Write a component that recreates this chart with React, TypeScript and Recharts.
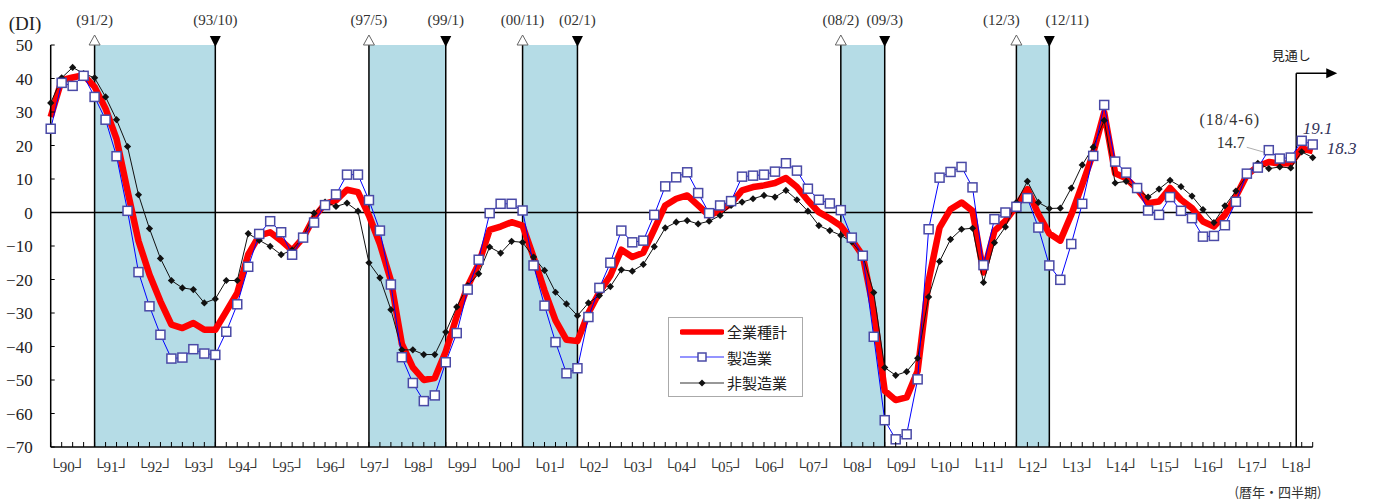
import React from "react";
import {
  LineChart,
  Line,
  XAxis,
  YAxis,
  ReferenceArea,
  ReferenceLine,
  ReferenceDot,
  Legend,
} from "recharts";

const SERIF = "'Liberation Serif', 'DejaVu Serif', 'Noto Sans CJK JP', serif";
const JP = "'Noto Sans CJK JP', 'Noto Sans', sans-serif";

// years on the axis (4 quarters each)
const YEARS = [
  "90", "91", "92", "93", "94", "95", "96", "97", "98", "99",
  "00", "01", "02", "03", "04", "05", "06", "07", "08", "09",
  "10", "11", "12", "13", "14", "15", "16", "17", "18",
];

// 全業種計
const TOTAL = [
  28.5, 39.5, 40.3, 41.0,
  37.5, 31.0, 22.0, 6.5,
  -8.5, -18.5, -26.5, -33.5,
  -34.5, -33.0, -35.0, -35.0,
  -29.5, -24.0, -12.5, -6.9,
  -5.9, -8.4, -11.3, -7.6,
  -1.4, 2.6, 3.6, 6.8,
  6.1, -0.9, -9.4, -20.3,
  -39.2, -46.2, -50.0, -49.4,
  -41.5, -31.0, -22.0, -15.3,
  -5.2, -4.2, -2.9, -3.9,
  -13.3, -23.3, -32.2, -38.0,
  -38.4, -30.0, -23.8, -18.8,
  -11.1, -13.3, -12.0, -5.0,
  2.1, 4.1, 5.1, 2.1,
  -0.9, 0.6, 2.6, 6.6,
  7.6, 8.1, 8.8, 10.3,
  7.6, 3.6, 0.1, -1.8,
  -4.0, -8.2, -12.9, -29.4,
  -53.2, -56.0, -55.2, -47.3,
  -20.4, -4.5, 1.0, 3.0,
  0.5, -17.9, -5.5, -2.5,
  2.0, 7.0, -0.5, -6.3,
  -8.4, -0.7, 8.3, 17.7,
  29.9, 11.7, 10.2, 7.0,
  2.8, 3.3, 7.3, 3.8,
  1.3, -2.7, -4.2, -0.7,
  4.8, 11.2, 13.8, 15.1,
  14.6, 14.7, 19.1, 18.3,
];

// 製造業
const MFG = [
  25.0, 38.7, 37.8, 40.8,
  34.5, 27.7, 16.8, 0.5,
  -17.8, -28.0, -36.5, -43.6,
  -43.3, -40.8, -42.1, -42.5,
  -35.6, -27.4, -16.2, -6.4,
  -2.6, -5.9, -12.6, -7.5,
  -3.0, 2.2, 5.4, 11.3,
  11.3, 3.7, -5.4, -21.5,
  -43.2, -50.9, -56.3, -54.6,
  -44.7, -36.0, -23.0, -14.1,
  -0.2, 2.6, 2.6, 0.6,
  -15.8, -27.8, -38.7, -48.0,
  -46.5, -31.2, -22.5, -15.0,
  -5.4, -8.9, -8.4, -0.7,
  7.8, 10.5, 12.0, 5.8,
  -0.2, 2.1, 3.4, 10.7,
  11.0, 11.3, 12.2, 14.7,
  12.5, 7.1, 3.8, 2.7,
  0.7, -7.5, -12.9, -37.1,
  -62.0, -67.7, -66.2, -49.8,
  -5.0, 10.4, 12.1, 13.6,
  7.5, -15.7, -2.0, 0.0,
  1.7, 4.3, -4.5, -15.8,
  -20.1, -9.4, 2.6, 16.9,
  32.1, 15.2, 11.9, 7.3,
  0.6, -0.7, 4.6, 0.5,
  -1.7, -7.2, -7.0, -3.8,
  3.2, 11.6, 13.4, 18.6,
  16.1, 16.4, 21.4, 20.3,
];

// 非製造業
const NON_MFG = [
  32.7, 40.2, 43.3, 41.5,
  40.2, 34.5, 27.7, 19.7,
  5.3, -4.8, -13.7, -20.3,
  -22.5, -23.0, -27.0, -25.8,
  -20.3, -20.3, -6.3, -8.3,
  -10.1, -12.6, -11.2, -7.4,
  -0.2, 3.1, 1.8, 2.8,
  0.4, -15.0, -19.5, -29.0,
  -41.0, -41.0, -42.4, -42.4,
  -35.7, -28.2, -21.8, -18.3,
  -10.3, -12.1, -8.6, -8.9,
  -13.3, -17.3, -23.8, -27.3,
  -30.8, -27.0, -24.8, -22.1,
  -17.1, -17.5, -15.5, -10.2,
  -4.6, -2.9, -2.4, -3.4,
  -2.6, -0.9, 2.1, 3.1,
  4.1, 5.1, 4.6, 6.6,
  3.8, 0.4, -3.9, -5.4,
  -6.8, -8.8, -12.9, -23.9,
  -46.3, -48.6, -47.5, -43.5,
  -25.2, -14.6, -8.0, -5.0,
  -4.7, -20.9, -9.0, -4.3,
  3.0, 9.3, 3.0, 1.2,
  1.3, 7.3, 14.2, 19.5,
  27.5, 8.8, 9.3, 7.0,
  4.6, 7.0, 9.6, 7.7,
  4.9, 0.9, -3.0, 2.0,
  6.4, 11.0, 14.7, 13.1,
  13.6, 13.3, 18.1, 16.4,
];

const Y_TICKS = [50, 40, 30, 20, 10, 0, -10, -20, -30, -40, -50, -60, -70];

// 景気の山 / 谷 (year, quarter)
const CYCLES = [
  { peak: "(91/2)", trough: "(93/10)", from: ["91", 1], to: ["93", 4] },
  { peak: "(97/5)", trough: "(99/1)", from: ["97", 2], to: ["99", 1] },
  { peak: "(00/11)", trough: "(02/1)", from: ["00", 4], to: ["02", 1] },
  { peak: "(08/2)", trough: "(09/3)", from: ["08", 1], to: ["09", 1] },
  { peak: "(12/3)", trough: "(12/11)", from: ["12", 1], to: ["12", 4] },
] as const;

// labels that are nudged sideways so they do not collide
const LABEL_SHIFT: Record<string, number> = { "(12/3)": -15, "(12/11)": 18 };

const qIndex = (year: string, q: number) => YEARS.indexOf(year) * 4 + (q - 1);

const LAST_ACTUAL = qIndex("18", 2);
const Q_MAX = YEARS.length * 4 - 1;

const data = TOTAL.map((v, k) => ({
  q: k,
  total: v,
  mfg: MFG[k],
  nonMfg: NON_MFG[k],
}));

const X_TICKS = [
  ...data.map((d) => d.q),
  ...YEARS.map((_, k) => k * 4 + 1.5),
];

const LEGEND_ITEMS = [
  { name: "全業種計", kind: "total" },
  { name: "製造業", kind: "mfg" },
  { name: "非製造業", kind: "non" },
];

const XTick = (props: any) => {
  const { x, y, payload } = props;
  const v = payload.value;
  if (Number.isInteger(v)) {
    return <line x1={x} x2={x} y1={y} y2={y - 5} stroke="#000" strokeWidth={1} />;
  }
  return (
    <text x={x} y={y + 25} textAnchor="middle" fontFamily={SERIF} fontSize={15} fill="#333">
      {"└" + YEARS[Math.floor(v / 4)] + "┘"}
    </text>
  );
};

const YTick = (props: any) => {
  const { x, y, payload } = props;
  const v = payload.value;
  return (
    <g>
      <line x1={x} x2={x + 4} y1={y} y2={y} stroke="#000" />
      <text x={x - 18} y={y} dy="0.36em" textAnchor="end" fontFamily={SERIF} fontSize={17} fill="#222">
        {v < 0 ? "−" + Math.abs(v) : v}
      </text>
    </g>
  );
};

const SquareDot = (props: any) => {
  const { cx, cy, index } = props;
  return (
    <rect key={index} x={cx - 4.5} y={cy - 4.5} width={9} height={9}
      fill="#fff" stroke="#4a4aa6" strokeWidth={1.5} />
  );
};

const DiamondDot = (props: any) => {
  const { cx, cy, index } = props;
  const r = 3.6;
  return (
    <polygon key={index} points={`${cx},${cy - r} ${cx + r},${cy} ${cx},${cy + r} ${cx - r},${cy}`} fill="#111" />
  );
};

const CycleMark = ({ cx, cy, text, kind }: any) => (
  <g>
    {kind === "peak" ? (
      <>
        <line x1={cx} x2={cx} y1={cy} y2={cy - 6} stroke="#000" strokeWidth={1.5} />
        <polygon points={`${cx},${cy - 10} ${cx - 5.5},${cy} ${cx + 5.5},${cy}`} fill="#fff" stroke="#666" strokeWidth={1} />
      </>
    ) : (
      <polygon points={`${cx - 5.5},${cy - 9} ${cx + 5.5},${cy - 9} ${cx},${cy + 2}`} fill="#000" />
    )}
    <text
      x={cx + (LABEL_SHIFT[text] || 0)}
      y={cy - 20}
      textAnchor="middle"
      fontFamily={SERIF}
      fontSize={15}
      fill="#333"
    >
      {text}
    </text>
  </g>
);

const LegendBox = () => (
  <div
    style={{
      width: 135,
      height: 80,
      boxSizing: "border-box",
      border: "1px solid #aaa",
      background: "#fff",
      paddingTop: 1,
      paddingLeft: 11,
      fontFamily: JP,
      fontSize: 15,
      color: "#222",
    }}
  >
    {LEGEND_ITEMS.map((it) => (
      <div key={it.name} style={{ height: 25.5, display: "flex", alignItems: "center" }}>
        <svg width={44} height={14} style={{ marginRight: 3 }}>
          {it.kind === "total" && (
            <line x1={2} x2={42} y1={7} y2={7} stroke="#ff0000" strokeWidth={5.5} strokeLinecap="round" />
          )}
          {it.kind === "mfg" && (
            <>
              <line x1={0} x2={44} y1={7} y2={7} stroke="#7070ff" strokeWidth={1.5} />
              <rect x={18} y={3} width={8} height={8} fill="#fff" stroke="#4a4aa6" strokeWidth={1.5} />
            </>
          )}
          {it.kind === "non" && (
            <>
              <line x1={0} x2={44} y1={7} y2={7} stroke="#333" strokeWidth={1.2} />
              <polygon points="22,3.5 25.5,7 22,10.5 18.5,7" fill="#111" />
            </>
          )}
        </svg>
        <span>{it.name}</span>
      </div>
    ))}
  </div>
);

const ForecastArrow = ({ cx, cy }: any) => (
  <g>
    <line x1={cx} x2={cx + 32} y1={cy} y2={cy} stroke="#000" strokeWidth={1.5} />
    <polygon points={`${cx + 30},${cy - 5} ${cx + 41},${cy} ${cx + 30},${cy + 5}`} fill="#000" />
    <text x={cx - 5} y={cy - 13} textAnchor="middle" fontFamily={JP} fontSize={13} fill="#222">
      見通し
    </text>
  </g>
);

const ValueNote = ({ cx, cy, text, dx, dy }: any) => (
  <text x={cx + dx} y={cy + dy} fontFamily={SERIF} fontStyle="italic" fontSize={17} fill="#33335a">
    {text}
  </text>
);

const ActualNote = ({ cx, cy, value }: any) => (
  <g>
    <text x={cx - 61} y={cy - 38} textAnchor="middle" fontFamily={SERIF} fontSize={16} letterSpacing={1} fill="#333">
      (18/4-6)
    </text>
    <text x={cx - 60} y={cy - 15} textAnchor="middle" fontFamily={SERIF} fontSize={16} fill="#333">
      {value}
    </text>
    <line x1={cx - 44} y1={cy - 16} x2={cx - 23} y2={cy - 10} stroke="#999" strokeWidth={0.8} />
  </g>
);

export default function App() {
  return (
    <div style={{ position: "absolute", left: 0, top: 0, background: "#fff" }}>
      <LineChart
        width={1375}
        height={500}
        data={data}
        margin={{ top: 45, right: 62.3, bottom: 0, left: 10 }}
      >
        <XAxis
          dataKey="q"
          type="number"
          domain={[0, Q_MAX]}
          ticks={X_TICKS}
          interval={0}
          tickLine={false}
          tickSize={0}
          tickMargin={0}
          tick={<XTick />}
          height={53}
          stroke="#000"
          strokeWidth={1.5}
          label={{
            content: () => (
              <text x={1278} y={497} textAnchor="middle" fontFamily={JP} fontSize={13} fill="#333">
                (暦年・四半期)
              </text>
            ),
          }}
        />
        <YAxis
          type="number"
          domain={[-70, 50]}
          ticks={Y_TICKS}
          interval={0}
          tickLine={false}
          tickSize={0}
          tickMargin={0}
          tick={<YTick />}
          width={40.7}
          stroke="#000"
          strokeWidth={1.5}
          label={{
            content: () => (
              <text x={25} y={30} textAnchor="middle" fontFamily={SERIF} fontSize={19} fill="#222">
                (DI)
              </text>
            ),
          }}
        />

        {CYCLES.map((c) => (
          <ReferenceArea
            key={"a" + c.peak}
            x1={qIndex(c.from[0], c.from[1])}
            x2={qIndex(c.to[0], c.to[1])}
            y1={-70}
            y2={50}
            fill="#b5dce6"
            fillOpacity={1}
            stroke="none"
          />
        ))}
        {CYCLES.map((c) => (
          <ReferenceLine key={"p" + c.peak} x={qIndex(c.from[0], c.from[1])} stroke="#000" strokeWidth={1.5} />
        ))}
        {CYCLES.map((c) => (
          <ReferenceLine key={"t" + c.trough} x={qIndex(c.to[0], c.to[1])} stroke="#000" strokeWidth={1.5} />
        ))}
        {CYCLES.map((c) => (
          <ReferenceDot
            key={"pm" + c.peak}
            x={qIndex(c.from[0], c.from[1])}
            y={50}
            shape={(p: any) => <CycleMark cx={p.cx} cy={p.cy} text={c.peak} kind="peak" />}
          />
        ))}
        {CYCLES.map((c) => (
          <ReferenceDot
            key={"tm" + c.trough}
            x={qIndex(c.to[0], c.to[1])}
            y={50}
            shape={(p: any) => <CycleMark cx={p.cx} cy={p.cy} text={c.trough} kind="trough" />}
          />
        ))}

        <ReferenceLine y={0} stroke="#000" strokeWidth={1.5} />
        <ReferenceLine
          segment={[
            { x: LAST_ACTUAL + 0.5, y: -70 },
            { x: LAST_ACTUAL + 0.5, y: 41.6 },
          ]}
          stroke="#000"
          strokeWidth={1.5}
        />
        <ReferenceDot
          x={LAST_ACTUAL + 0.5}
          y={41.6}
          ifOverflow="visible"
          shape={(p: any) => <ForecastArrow cx={p.cx} cy={p.cy} />}
        />

        <Line
          dataKey="total"
          name="全業種計"
          type="linear"
          stroke="#ff0000"
          strokeWidth={6.5}
          strokeLinejoin="round"
          dot={false}
          activeDot={false}
          isAnimationActive={false}
        />
        <Line
          dataKey="nonMfg"
          name="非製造業"
          type="linear"
          stroke="#111"
          strokeWidth={1}
          dot={DiamondDot}
          activeDot={false}
          isAnimationActive={false}
        />
        <Line
          dataKey="mfg"
          name="製造業"
          type="linear"
          stroke="#0000ff"
          strokeWidth={1}
          dot={SquareDot}
          activeDot={false}
          isAnimationActive={false}
        />

        <ReferenceDot
          x={LAST_ACTUAL}
          y={TOTAL[LAST_ACTUAL]}
          ifOverflow="visible"
          shape={(p: any) => <ActualNote cx={p.cx} cy={p.cy} value={TOTAL[LAST_ACTUAL]} />}
        />
        <ReferenceDot
          x={LAST_ACTUAL + 1}
          y={TOTAL[LAST_ACTUAL + 1]}
          ifOverflow="visible"
          shape={(p: any) => <ValueNote cx={p.cx} cy={p.cy} text={TOTAL[LAST_ACTUAL + 1].toFixed(1)} dx={1} dy={-15} />}
        />
        <ReferenceDot
          x={LAST_ACTUAL + 2}
          y={TOTAL[LAST_ACTUAL + 2]}
          ifOverflow="visible"
          shape={(p: any) => <ValueNote cx={p.cx} cy={p.cy} text={TOTAL[LAST_ACTUAL + 2].toFixed(1)} dx={14} dy={3} />}
        />

        <Legend
          layout="vertical"
          align="center"
          verticalAlign="middle"
          content={<LegendBox />}
          wrapperStyle={{ left: 668, top: 317, width: 135, height: 80 }}
        />
      </LineChart>
    </div>
  );
}
